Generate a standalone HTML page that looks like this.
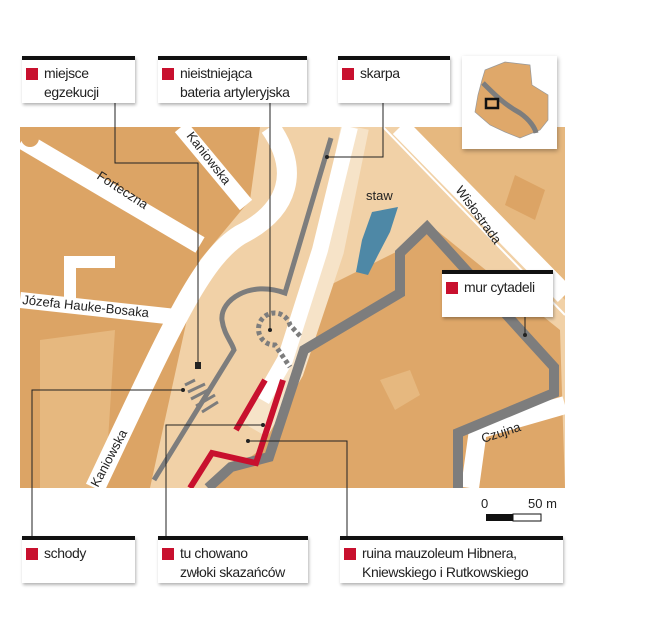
<!DOCTYPE html>
<html><head><meta charset="utf-8"><style>
body{margin:0;background:#fff;width:670px;height:640px;overflow:hidden;font-family:"Liberation Sans",sans-serif}
.lb{position:absolute;background:#fff;border-top:4px solid #111;box-shadow:1px 2px 3px rgba(0,0,0,.3);font-family:"Liberation Sans",sans-serif;font-size:14px;letter-spacing:-0.4px;line-height:19px;color:#222;padding:4px 2px 0 22px;box-sizing:border-box;white-space:nowrap;overflow:hidden}
.lb:before{content:"";position:absolute;left:4px;top:8px;width:12px;height:12px;background:#c8102e}
</style></head><body>
<svg width="670" height="640" style="position:absolute;left:0;top:0">
<defs><clipPath id="c"><rect x="20" y="127" width="545" height="361"/></clipPath></defs>
<g clip-path="url(#c)">
<rect x="20" y="127" width="545" height="361" fill="#f1d1a7"/>
<polygon points="20,127 260,127 250,200 200,260 150,488 20,488" fill="#dca465"/>
<polygon points="300,300 400,250 430,225 560,330 565,488 208,488 260,450 290,380" fill="#dea769"/>
<polygon points="400,127 565,127 565,300" fill="#e6b87f"/>
<polygon points="515,175 545,190 535,220 505,205" fill="#dca465"/>
<polygon points="380,380 410,370 420,395 395,410" fill="#e6b87f"/>
<polygon points="40,340 115,330 105,488 40,488" fill="#e6b87f"/>
<g fill="none" stroke="#fff" stroke-linecap="butt">
<path d="M22,140 L200,245" stroke-width="18"/>
<path d="M181,127 L246,205" stroke-width="16"/>
<path d="M270,127 C300,170 290,210 240,235 C200,260 170,330 95,488" stroke-width="20"/>
<path d="M20,300 L185,318" stroke-width="16"/>
<path d="M70,300 L70,262 L115,262" stroke-width="12"/>
<path d="M355,127 L330,250 L290,370 L255,430" stroke-width="28" stroke="#f6e3c8"/>
<path d="M350,127 L320,250 L285,360 L262,400" stroke-width="16"/>
<path d="M400,127 L565,295" stroke-width="20"/>
<path d="M383,127 L565,315" stroke-width="2"/>
<path d="M470,488 L478,430 L565,405" stroke-width="18"/>
</g>
<circle cx="30" cy="138" r="9" fill="#dca465"/>
<path d="M208,488 L231,467 L269,457 L292,387 L304,350 L400,293 L400,253 L427,227 L523,333 L554,367 L554,393 L458,433 L458,488" fill="none" stroke="#7d7d7d" stroke-width="10" stroke-linejoin="miter"/>
<path d="M331,138 L285,293 C250,280 220,300 222,320 C224,335 232,342 234,350 L154,480" fill="none" stroke="#7d7d7d" stroke-width="5"/>
<path d="M300,336 L290,325 A16,16 0 1,0 275,345 L290,367" fill="none" stroke="#7d7d7d" stroke-width="5" stroke-dasharray="4,3"/>
<path d="M356,272 L362,240 L372,212 L398,207 L390,232 L378,255 L368,275 Z" fill="#4e88a6"/>
<g stroke="#7d7d7d" stroke-width="3"><path d="M185,385 L195,380 M188,392 L205,384 M191,399 L212,388 M196,406 L215,395 M202,412 L218,402"/></g>
<path d="M265,380 L236,430 M283,380 L256,463 L212,453 L190,488" fill="none" stroke="#c8102e" stroke-width="6"/>
</g>
<g fill="none" stroke="#222" stroke-width="1">
<path d="M115,103 V163 H198 V365"/><path d="M270,103 V330"/><path d="M383,103 V157 H327"/><path d="M525,317 V335"/>
<path d="M32,537 V390 H183"/><path d="M166,537 V425 H263"/><path d="M347,537 V441 H248"/>
</g>
<g fill="#222"><circle cx="327" cy="157" r="2"/><circle cx="270" cy="330" r="2"/><circle cx="525" cy="335" r="2"/><circle cx="183" cy="390" r="2"/><circle cx="263" cy="425" r="2"/><circle cx="248" cy="441" r="2"/><rect x="195" y="362" width="6" height="7"/></g>
<g font-size="13" fill="#222" font-family="Liberation Sans,sans-serif">
<text x="96" y="178" transform="rotate(33 96 178)">Forteczna</text>
<text x="186" y="136" transform="rotate(52 186 136)">Kaniowska</text>
<text x="22" y="304" transform="rotate(6 22 304)">Józefa Hauke-Bosaka</text>
<text x="98" y="488" transform="rotate(-62 98 488)">Kaniowska</text>
<text x="455" y="190" transform="rotate(54 455 190)">Wisłostrada</text>
<text x="483" y="443" transform="rotate(-18 483 443)">Czujna</text>
<text x="366" y="200">staw</text>
<text x="481" y="508">0</text><text x="528" y="508">50 m</text>
</g>
<rect x="486" y="514" width="27" height="7" fill="#111"/><rect x="513" y="514" width="28" height="7" fill="#fff" stroke="#111"/>
<rect x="462" y="56" width="95" height="93" fill="#fff" style="filter:drop-shadow(1px 2px 2px rgba(0,0,0,.3))"/>
<path d="M485,70 L505,62 L530,65 L532,85 L548,95 L548,120 L540,130 L520,138 L505,132 L490,125 L475,112 L478,95 L482,80 Z" fill="#dfa86a" stroke="#999" stroke-width=".7"/>
<path d="M483,83 C495,95 505,105 520,113 C530,120 535,128 536,133" fill="none" stroke="#7d7d7d" stroke-width="5"/>
<rect x="486" y="99" width="12" height="9" fill="none" stroke="#111" stroke-width="2.5"/>
</svg>
<div class="lb" style="left:22px;top:56px;width:113px;height:47px">miejsce<br>egzekucji</div>
<div class="lb" style="left:158px;top:56px;width:149px;height:47px">nieistniejąca<br>bateria artyleryjska</div>
<div class="lb" style="left:338px;top:56px;width:112px;height:47px">skarpa</div>
<div class="lb" style="left:442px;top:270px;width:111px;height:47px">mur cytadeli</div>
<div class="lb" style="left:22px;top:536px;width:113px;height:47px">schody</div>
<div class="lb" style="left:158px;top:536px;width:150px;height:47px">tu chowano<br>zwłoki skazańców</div>
<div class="lb" style="left:340px;top:536px;width:223px;height:47px">ruina mauzoleum Hibnera,<br>Kniewskiego i Rutkowskiego</div>
</body></html>
